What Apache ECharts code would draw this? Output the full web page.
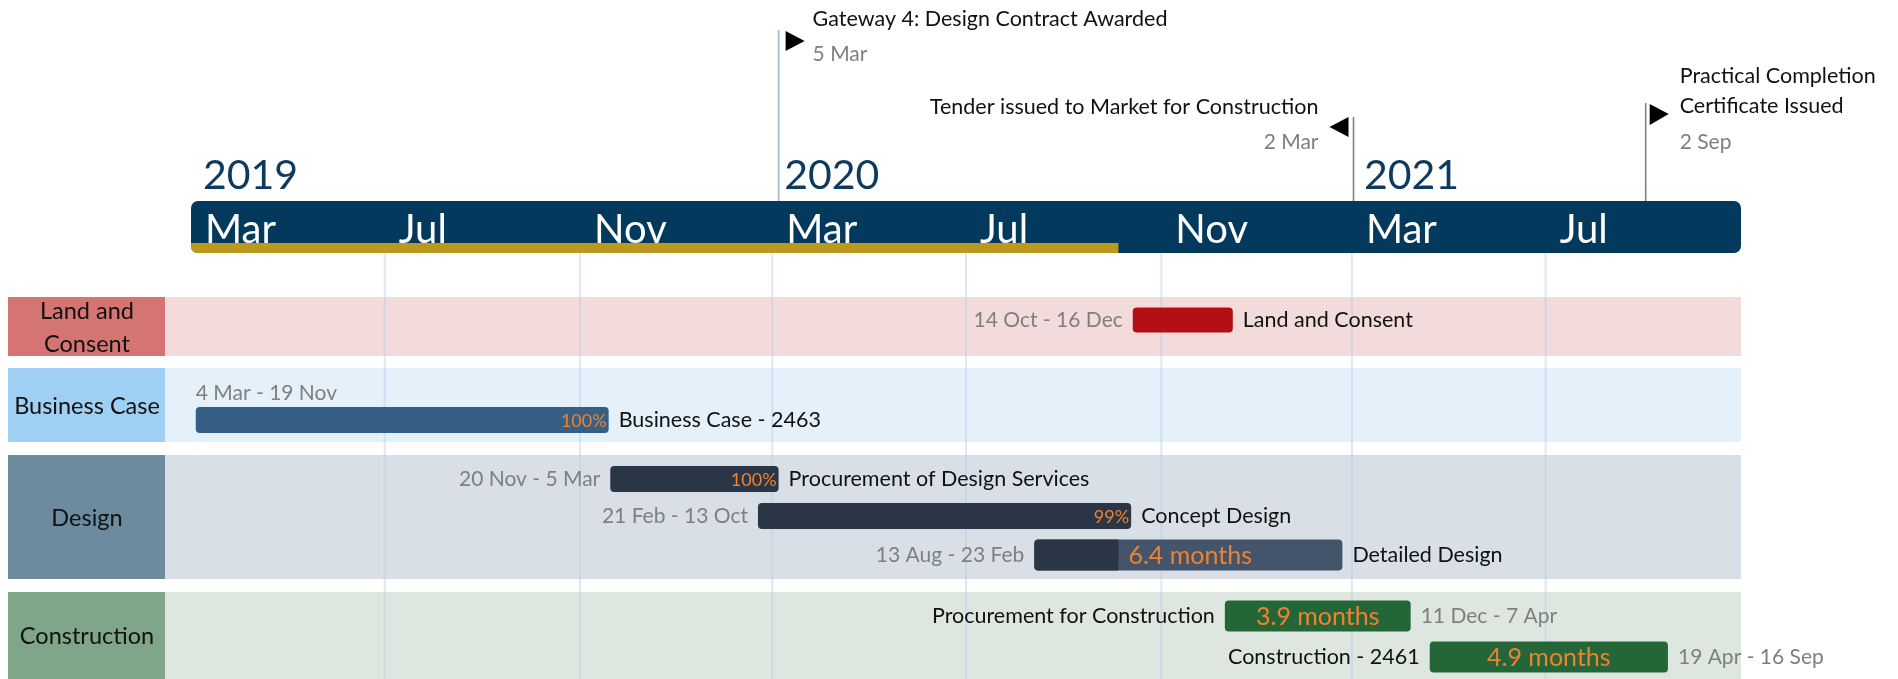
<!DOCTYPE html>
<html>
<head>
<meta charset="utf-8">
<script src="https://cdn.jsdelivr.net/npm/echarts@6/dist/echarts.min.js"></script>
<style>
  html, body { margin: 0; padding: 0; background: #fff; }
  #chart { width: 1898px; height: 679px; }
</style>
</head>
<body>
<div id="chart"></div>
<script>
// ---- data ----
const laneNames = ['Land and\nConsent', 'Business Case', 'Design', 'Construction']
const taskNames = ['Land and Consent', 'Business Case - 2463', 'Procurement of Design Services',
  'Concept Design', 'Detailed Design', 'Procurement for Construction', 'Construction - 2461']
const taskStart = ['2020-10-14', '2019-03-04', '2019-11-20', '2020-02-21', '2020-08-13', '2020-12-11', '2021-04-19']
const taskEnd = ['2020-12-16', '2019-11-19', '2020-03-05', '2020-10-13', '2021-02-23', '2021-04-07', '2021-09-16']
const taskDateText = ['14 Oct - 16 Dec', '4 Mar - 19 Nov', '20 Nov - 5 Mar', '21 Feb - 13 Oct',
  '13 Aug - 23 Feb', '11 Dec - 7 Apr', '19 Apr - 16 Sep']
const taskBadge = ['', '100%', '100%', '99%', '6.4 months', '3.9 months', '4.9 months']
const milestoneNames = ['Gateway 4: Design Contract Awarded', 'Tender issued to Market for Construction',
  'Practical Completion\nCertificate Issued']
const milestoneDates = ['2020-03-05', '2021-03-02', '2021-09-02']
const milestoneDateText = ['5 Mar', '2 Mar', '2 Sep']
const monthTicks = ['2019-03-01', '2019-07-01', '2019-11-01', '2020-03-01', '2020-07-01', '2020-11-01', '2021-03-01', '2021-07-01']
const monthLabels = ['Mar', 'Jul', 'Nov', 'Mar', 'Jul', 'Nov', 'Mar', 'Jul']
const yearTicks = ['2019-03-01', '2020-03-01', '2021-03-01']
const yearLabels = ['2019', '2020', '2021']
const todayDate = '2020-10-05'

// ---- layout / styles ----
const FONT = 'Lato'
const laneTop = [297, 368, 455, 592]
const laneBottom = [356, 442, 579, 700]
const laneBoxColor = ['#d47473', '#9fd0f4', '#6c8b9e', '#80a689']
const laneBgColor = ['#f3dbdc', '#e4f0fa', '#d9dfe6', '#dee7df']
const rowY = [320, 420, 479, 516, 555, 616, 657]
const rowH = [25, 26, 26, 26, 31, 31, 31]
const barColor = ['#b30f15', '#355f85', '#2a3646', '#2a3646', '#44546a', '#256638', '#256638']
const labelMode = ['dateLeft', 'dateAbove', 'dateLeft', 'dateLeft', 'dateLeft', 'nameLeft', 'nameLeft']
const ORANGE = '#f0822f'
const GRAY = '#7f7f7f'
const NAME_SIZE = 21.5
const DATE_SIZE = 21

const ts = s => +new Date(s + 'T00:00:00')

const chart = echarts.init(document.getElementById('chart'))

function txt(text, x, y, size, color, align, valign) {
  return {
    type: 'text',
    style: { text, x, y, fontSize: size, fontFamily: FONT, fill: color, align: align || 'left', verticalAlign: valign || 'middle' }
  }
}

function renderLane(params, api) {
  const i = params.dataIndex
  const cs = params.coordSys
  const top = laneTop[i], bot = laneBottom[i]
  return {
    type: 'group',
    children: [
      { type: 'rect', shape: { x: 165, y: top, width: cs.x + cs.width - 165, height: bot - top }, style: { fill: laneBgColor[i] } },
      { type: 'rect', shape: { x: 8, y: top, width: 157, height: bot - top }, style: { fill: laneBoxColor[i] } },
      {
        type: 'text',
        style: {
          text: laneNames[i], x: 87, y: (top + Math.min(bot, 679)) / 2 + 1, fontSize: 23.5, fontFamily: FONT,
          fill: '#111', align: 'center', verticalAlign: 'middle', lineHeight: 33
        }
      }
    ]
  }
}

function renderGridLine(params, api) {
  const p = api.coord([api.value(0), 0])
  return {
    type: 'line',
    shape: { x1: p[0], y1: 253, x2: p[0], y2: 679 },
    style: { stroke: 'rgba(180,205,230,0.45)', lineWidth: 2 }
  }
}

function renderTimeline(params, api) {
  const cs = params.coordSys
  const today = api.coord([ts(todayDate), 0])[0]
  const children = [
    { type: 'rect', shape: { x: cs.x, y: 201, width: cs.width, height: 52, r: 7 }, style: { fill: '#03395c' } },
    { type: 'rect', shape: { x: cs.x, y: 243, width: today - cs.x, height: 10, r: [0, 0, 0, 6] }, style: { fill: '#bd981f' } }
  ]
  monthTicks.forEach((m, k) => {
    const x = api.coord([ts(m), 0])[0]
    children.push(txt(monthLabels[k], x + 14, 230, 40, '#ffffff'))
  })
  yearTicks.forEach((m, k) => {
    const x = api.coord([ts(m), 0])[0]
    children.push(txt(yearLabels[k], x + 12, 176, 41, '#0d3a5e'))
  })
  return { type: 'group', children }
}

function renderMilestone(params, api) {
  const i = params.dataIndex
  const x = api.coord([api.value(0), 0])[0]
  const children = []
  if (i === 0) {
    children.push({ type: 'line', shape: { x1: x, y1: 30, x2: x, y2: 201 }, style: { stroke: '#a7bfd9', lineWidth: 2 } })
    children.push({ type: 'polygon', shape: { points: [[x + 7, 31], [x + 26, 41], [x + 7, 51]] }, style: { fill: '#000' } })
    children.push(txt(milestoneNames[i], x + 34, 19, NAME_SIZE, '#111'))
    children.push(txt(milestoneDateText[i], x + 34, 54, DATE_SIZE, GRAY))
  } else if (i === 1) {
    children.push({ type: 'line', shape: { x1: x, y1: 117, x2: x, y2: 201 }, style: { stroke: '#808080', lineWidth: 1.6 } })
    children.push({ type: 'polygon', shape: { points: [[x - 5, 117], [x - 24, 127], [x - 5, 137]] }, style: { fill: '#000' } })
    children.push(txt(milestoneNames[i], x - 35, 107, NAME_SIZE, '#111', 'right'))
    children.push(txt(milestoneDateText[i], x - 35, 142, DATE_SIZE, GRAY, 'right'))
  } else {
    children.push({ type: 'line', shape: { x1: x, y1: 103, x2: x, y2: 201 }, style: { stroke: '#808080', lineWidth: 1.6 } })
    children.push({ type: 'polygon', shape: { points: [[x + 4, 104], [x + 23, 114], [x + 4, 125]] }, style: { fill: '#000' } })
    children.push({
      type: 'text',
      style: {
        text: milestoneNames[i], x: x + 34, y: 91, fontSize: NAME_SIZE, fontFamily: FONT, fill: '#111',
        align: 'left', verticalAlign: 'middle', lineHeight: 30
      }
    })
    children.push(txt(milestoneDateText[i], x + 34, 142, DATE_SIZE, GRAY))
  }
  return { type: 'group', children }
}

function renderTask(params, api) {
  const i = params.dataIndex
  const x0 = api.coord([api.value(0), 0])[0]
  const x1 = api.coord([api.value(1), 0])[0]
  const cy = rowY[i], h = rowH[i]
  const children = [
    { type: 'rect', shape: { x: x0, y: cy - h / 2, width: x1 - x0, height: h, r: 4 }, style: { fill: barColor[i] } }
  ]
  const badge = taskBadge[i]
  if (i === 4) {
    const t = api.coord([ts(todayDate), 0])[0]
    children.push({ type: 'rect', shape: { x: x0, y: cy - h / 2, width: t - x0, height: h, r: [4, 0, 0, 4] }, style: { fill: '#2a3646' } })
    children.push(txt(badge, t + 10, cy + 1, 25, ORANGE))
  } else if (labelMode[i] === 'nameLeft') {
    children.push(txt(badge, (x0 + x1) / 2, cy + 1, 25, ORANGE, 'center'))
  } else if (badge) {
    children.push(txt(badge, x1 - 2, cy + 1, 18, ORANGE, 'right'))
  }
  if (labelMode[i] === 'nameLeft') {
    children.push(txt(taskNames[i], x0 - 10, cy, NAME_SIZE, '#111', 'right'))
    children.push(txt(taskDateText[i], x1 + 10, cy, DATE_SIZE, GRAY))
  } else if (labelMode[i] === 'dateAbove') {
    children.push(txt(taskDateText[i], x0, cy - 27, DATE_SIZE, GRAY))
    children.push(txt(taskNames[i], x1 + 10, cy, NAME_SIZE, '#111'))
  } else {
    children.push(txt(taskDateText[i], x0 - 10, cy, DATE_SIZE, GRAY, 'right'))
    children.push(txt(taskNames[i], x1 + 10, cy, NAME_SIZE, '#111'))
  }
  return { type: 'group', children }
}

const option = {
  animation: false,
  grid: { left: 191, right: 157, top: 0, bottom: 0 },
  xAxis: { type: 'time', min: ts('2019-03-01'), max: ts('2021-11-01'), show: false },
  yAxis: { type: 'value', min: 0, max: 679, inverse: true, show: false },
  series: [
    { type: 'custom', z: 1, silent: true, renderItem: renderLane, data: laneNames.map((n, i) => [ts(monthTicks[0]), i]) },
    { type: 'custom', z: 2, silent: true, renderItem: renderGridLine, data: monthTicks.slice(1).map(m => [ts(m), 0]) },
    { type: 'custom', z: 3, silent: true, renderItem: renderTimeline, data: [[ts(monthTicks[0]), 0]] },
    { type: 'custom', z: 3, silent: true, renderItem: renderMilestone, data: milestoneDates.map(d => [ts(d), 0]) },
    {
      type: 'custom', z: 4, silent: true, renderItem: renderTask,
      encode: { x: [0, 1] },
      data: taskStart.map((s, i) => [ts(s), ts(taskEnd[i])])
    }
  ]
}
chart.setOption(option)
</script>
</body>
</html>
